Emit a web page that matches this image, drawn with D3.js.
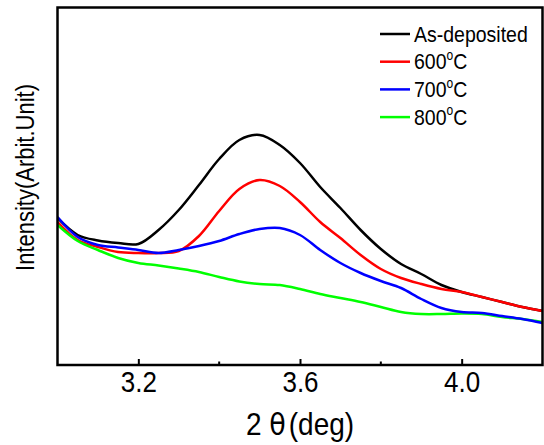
<!DOCTYPE html>
<html>
<head>
<meta charset="utf-8">
<script src="https://cdn.jsdelivr.net/npm/d3@7"></script>
<style>
  body { margin: 0; background: #fff; }
  text { font-family: "Liberation Sans", Arial, sans-serif; fill: #000; }
</style>
</head>
<body>
<div id="chart"></div>
<script>
// 2theta grid (deg)
const theta = [3.00, 3.05, 3.10, 3.15, 3.20, 3.25, 3.30, 3.35, 3.40, 3.45, 3.50, 3.55, 3.60,
	3.65, 3.70, 3.75, 3.80, 3.85, 3.90, 3.95, 4.00, 4.05, 4.10, 4.15, 4.20];

// intensities (arbitrary units)
const asDeposited = [147, 130, 124.5, 122, 121, 135, 155, 180, 206, 225, 230, 220, 202,
	178, 157, 135, 116, 101, 91, 80, 73, 68, 63, 58, 54];
const t600 = [143, 125, 118, 113, 112, 112, 114, 129, 154, 176, 185, 179, 163,
	143, 127, 110, 96, 87, 81, 76, 73, 68, 63, 58, 54];
const t700 = [148, 128, 120, 117.5, 115, 112, 115, 119, 124, 131, 136, 137, 130,
	115, 102, 92, 84, 77, 66, 57, 53, 52, 49, 46, 42];
const t800 = [140, 124, 115, 107, 102, 99.5, 96.5, 93, 88, 83.5, 81, 80, 76,
	71, 67, 63, 58, 53, 51, 51, 51.5, 51, 48, 46, 43];

const seriesNames = ["As-deposited", "600", "700", "800"];
const seriesColors = ["#000000", "#ff0000", "#0000ff", "#00ff00"];
const seriesValues = [asDeposited, t600, t700, t800];

const majorTicks = [3.2, 3.6, 4.0];
const minorTicks = [3.4, 3.8];

const W = 544, H = 445;
const margin = {top: 7.5, right: 1.5, bottom: 80, left: 57.5};
const width = W - margin.left - margin.right;
const height = H - margin.top - margin.bottom;

const svg = d3.select("#chart").append("svg")
	.attr("width", W)
	.attr("height", H);

const g = svg.append("g")
	.attr("transform", "translate(" + margin.left + "," + margin.top + ")");

const x = d3.scaleLinear().domain([3.0, 4.2]).range([0, width]);
const y = d3.scaleLinear().domain([0, 357.5]).range([height, 0]);

g.append("clipPath").attr("id", "clip")
	.append("rect").attr("width", width).attr("height", height);

const line = d3.line()
	.x(d => x(d[0]))
	.y(d => y(d[1]))
	.curve(d3.curveCatmullRom.alpha(0.5));

// draw order: black, red, green, blue
const order = [0, 1, 3, 2];
order.forEach(i => {
	g.append("path")
		.datum(theta.map((t, k) => [t, seriesValues[i][k]]))
		.attr("clip-path", "url(#clip)")
		.attr("fill", "none")
		.attr("stroke", seriesColors[i])
		.attr("stroke-width", 2.5)
		.attr("stroke-linejoin", "round")
		.attr("d", line);
});

// bottom axis, ticks pointing inward
const xAxis = d3.axisBottom(x)
	.tickValues(majorTicks)
	.tickSize(-6)
	.tickFormat(d3.format(".1f"));

const ax = g.append("g")
	.attr("transform", "translate(0," + height + ")")
	.call(xAxis);
ax.select(".domain").remove();
ax.selectAll("line").attr("stroke", "#000").attr("stroke-width", 2);
// the reference font is a bit taller than plain Arial, so stretch it vertically
ax.selectAll("text")
	.attr("y", 0)
	.attr("dy", 0)
	.attr("transform", "translate(0,27) scale(1,1.12)")
	.attr("font-size", 26)
	.attr("fill", "#000")
	.style("font-family", "'Liberation Sans', Arial, sans-serif");

g.selectAll(".minor")
	.data(minorTicks)
	.enter().append("line")
	.attr("x1", d => x(d)).attr("x2", d => x(d))
	.attr("y1", height).attr("y2", height - 3.5)
	.attr("stroke", "#000").attr("stroke-width", 2);

// frame
g.append("rect")
	.attr("width", width)
	.attr("height", height)
	.attr("fill", "none")
	.attr("stroke", "#000")
	.attr("stroke-width", 2.5);

// axis titles
const xt = svg.append("text")
	.attr("transform", "translate(" + (margin.left + x(3.6)) + ",435) scale(1,1.12)")
	.attr("text-anchor", "middle")
	.attr("font-size", 28);
xt.append("tspan").text("2 ");
xt.append("tspan").text("θ").style("font-family", "'DejaVu Sans', sans-serif").attr("font-size", 27);
xt.append("tspan").text("(deg)").attr("dx", 3);

svg.append("text")
	.attr("transform", "translate(34," + (margin.top + 170) + ") rotate(-90) scale(1,1.15)")
	.attr("text-anchor", "middle")
	.attr("font-size", 22)
	.text("Intensity(Arbit.Unit)");

// legend
const legend = g.append("g")
	.attr("transform", "translate(" + (380 - margin.left) + "," + (34 - margin.top) + ")");

seriesNames.forEach((name, i) => {
	const row = legend.append("g").attr("transform", "translate(0," + (i * 27.7) + ")");
	row.append("line")
		.attr("x1", 0).attr("x2", 30)
		.attr("stroke", seriesColors[i])
		.attr("stroke-width", 2.5);
	const t = row.append("text")
		.attr("transform", "translate(34,7.5) scale(1,1.15)")
		.attr("font-size", 19.5);
	if (i === 0) {
		t.text(name);
	} else {
		t.append("tspan").text(name);
		t.append("tspan").text("o").attr("font-size", 12).attr("dy", -8);
		t.append("tspan").text("C").attr("dy", 8);
	}
});
</script>
</body>
</html>
